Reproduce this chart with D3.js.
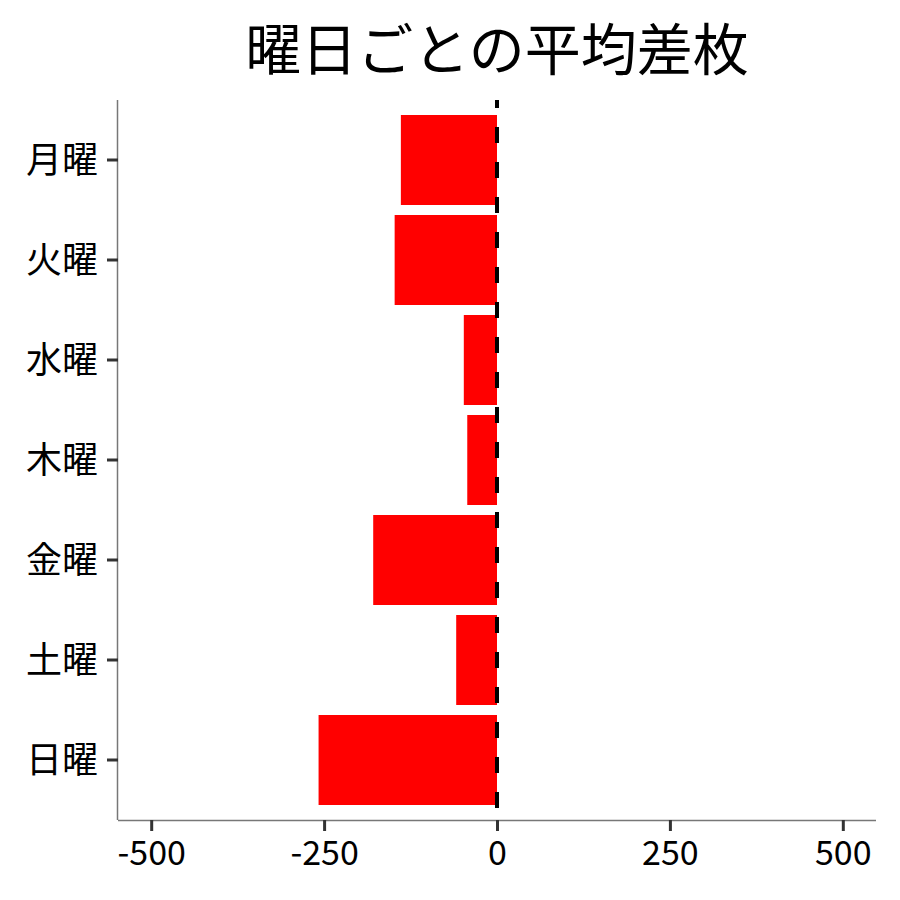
<!DOCTYPE html>
<html>
<head>
<meta charset="utf-8">
<script src="https://cdn.jsdelivr.net/npm/d3@7"></script>
<style>
  body { margin: 0; background: #fff; }
  svg { display: block; }
  text { font-family: "Noto Sans CJK JP", "Noto Sans", sans-serif; }
</style>
</head>
<body>
<svg id="chart" width="900" height="900"></svg>
<script>
const days = ["月曜", "火曜", "水曜", "木曜", "金曜", "土曜", "日曜"];
const avgDiff = [-139, -148, -48, -43, -179, -59, -258];
const xTicks = [-500, -250, 0, 250, 500];
const title = "曜日ごとの平均差枚";

const svg = d3.select("#chart");
const mLeft = 118, mRight = 876, mTop = 100, mBottom = 820;

const x = d3.scaleLinear().domain([-548, 548]).range([mLeft, mRight]);
const y = d3.scaleBand().domain(days).range([mTop, mBottom]).paddingInner(0.1).paddingOuter(0.15);

// bars
svg.append("g").selectAll("rect").data(days).join("rect")
  .attr("x", (d, i) => x(Math.min(0, avgDiff[i])))
  .attr("width", (d, i) => Math.abs(x(avgDiff[i]) - x(0)))
  .attr("y", d => y(d))
  .attr("height", y.bandwidth())
  .attr("fill", "#ff0000");

// dashed zero line
svg.append("line")
  .attr("x1", x(0)).attr("x2", x(0))
  .attr("y1", mTop).attr("y2", mBottom)
  .attr("stroke", "#000").attr("stroke-width", 4)
  .attr("stroke-dasharray", "16,19").attr("stroke-dashoffset", 8);

// x axis
const xAxis = svg.append("g").attr("transform", `translate(0,${mBottom})`)
  .call(d3.axisBottom(x).tickValues(xTicks).tickSize(11).tickPadding(8).tickFormat(d3.format("d")));
xAxis.select(".domain").attr("stroke", "#777").attr("stroke-width", 1.5).attr("d", `M${mLeft},0.5H${mRight}`);
xAxis.selectAll(".tick line").attr("stroke", "#333").attr("stroke-width", 3);
xAxis.selectAll(".tick text").attr("fill", "#000").attr("font-size", 34).attr("dy", "0.75em")
  .text(d => d < 0 ? "-" + Math.abs(d) : d);

// y axis
const yAxis = svg.append("g").attr("transform", `translate(${mLeft},0)`)
  .call(d3.axisLeft(y).tickSize(11).tickPadding(9));
yAxis.select(".domain").attr("stroke", "#777").attr("stroke-width", 1.5).attr("d", `M-0.5,${mTop}V${mBottom}`);
yAxis.selectAll(".tick line").attr("stroke", "#333").attr("stroke-width", 3);
yAxis.selectAll(".tick text").attr("fill", "#000").attr("font-size", 36).attr("dy", "0.35em");

// title
svg.append("text").attr("x", 497).attr("y", 45).attr("text-anchor", "middle")
  .attr("dominant-baseline", "central").attr("font-size", 56).attr("fill", "#000").text(title);
</script>
</body>
</html>
